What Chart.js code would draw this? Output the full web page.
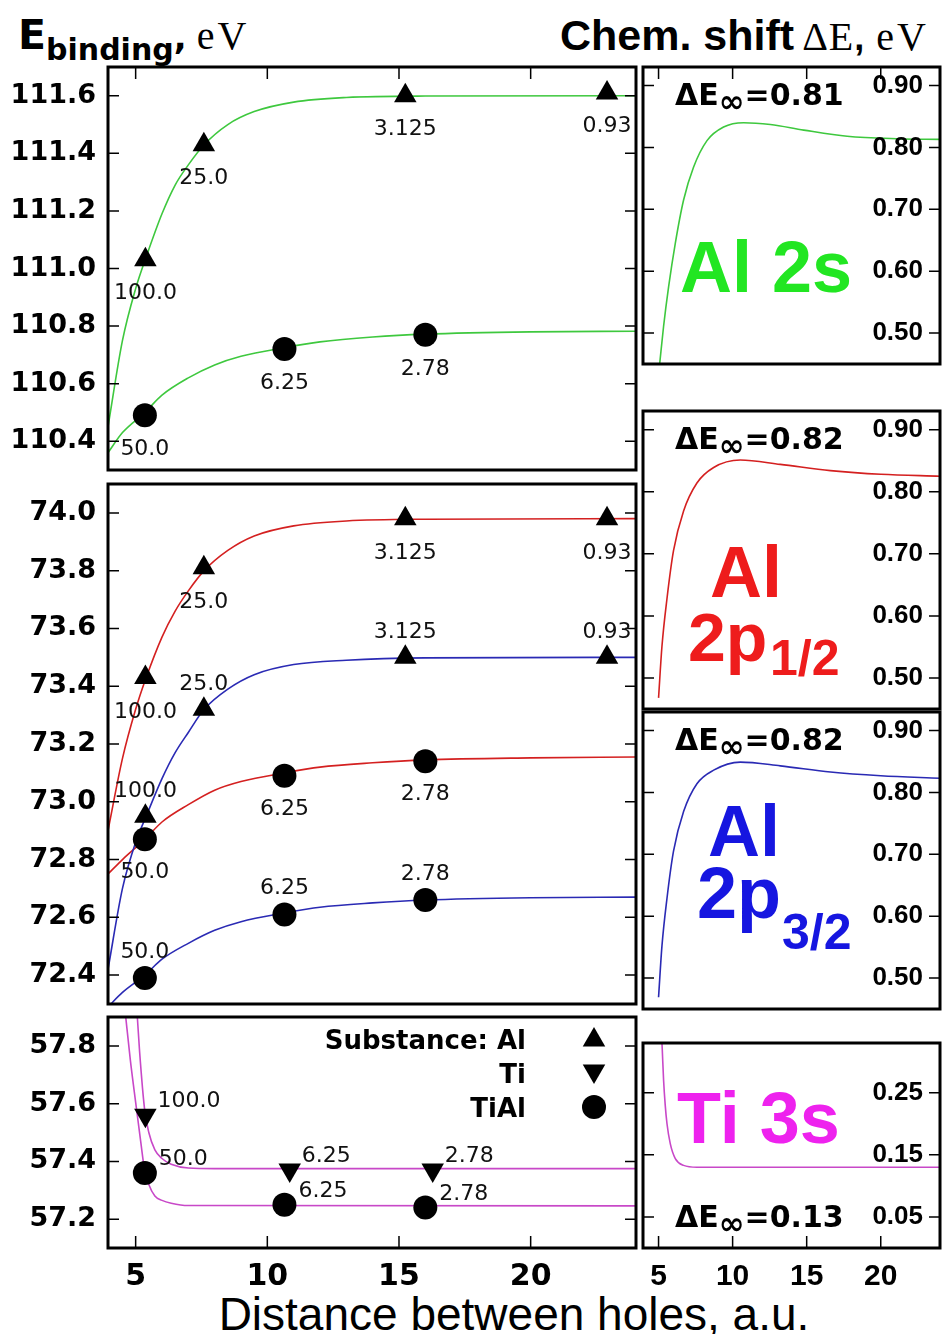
<!DOCTYPE html>
<html>
<head>
<meta charset="utf-8">
<title>Binding energies and chemical shifts</title>
<script src="https://cdn.jsdelivr.net/npm/chart.js@4.4.1/dist/chart.umd.min.js"></script>
<style>
  html, body { margin: 0; padding: 0; background: #fff; }
  #page { position: relative; width: 942px; height: 1334px; overflow: hidden; background: #fff; }
  #page canvas { position: absolute; }
  .txt { position: absolute; white-space: nowrap; line-height: 1; color: #000; }
  .unit { font-family: 'Liberation Serif'; font-weight: normal; line-height: 1; letter-spacing: 3px; }
</style>
</head>
<body>
<div id="page">
  <div class="txt" style="left:18px; top:15px; font: bold 41px 'DejaVu Sans'; line-height:1;">E<span style="font-size:30px; vertical-align:-11px;">binding</span><span style="font-size:34px;">,</span><span class="unit" style="font-size:40px; margin-left:10px;">eV</span></div>
  <div class="txt" style="left:560px; top:14px; font: bold 43px 'Liberation Sans'; line-height:1;">Chem. shift<span class="unit" style="font-size:40px; margin-left:8px; letter-spacing:1px;">ΔE</span><span style="font-size:36px;">,</span><span class="unit" style="font-size:40px; margin-left:12px;">eV</span></div>
  <div class="txt" style="left:514px; top:1291px; transform: translateX(-50%); font: 46px 'Liberation Sans'; line-height:1;">Distance between holes, a.u.</div>
</div>
<script>
/* ---- data ---- */
const distTicks = [5, 10, 15, 20];

// measured points: distance between holes (a.u.) and tags next to the markers
const alDist = [5.37, 7.59, 15.24, 22.9];
const tiDist = [5.37, 10.85, 16.28];
const tialDist = [5.35, 10.65, 16.0];
const alTags = ['100.0', '25.0', '3.125', '0.93'];
const tiTags = ['100.0', '6.25', '2.78'];
const tialTags = ['50.0', '6.25', '2.78'];

// binding energies, eV
const al2sAl = [111.03, 111.43, 111.60, 111.61];
const al2sTiAl = [110.49, 110.72, 110.77];
const p12Al = [73.43, 73.81, 73.98, 73.98];
const p12TiAl = [72.87, 73.09, 73.14];
const p32Al = [72.95, 73.32, 73.50, 73.50];
const p32TiAl = [72.39, 72.61, 72.66];
const ti3sTi = [57.56, 57.37, 57.37];
const ti3sTiAl = [57.36, 57.25, 57.24];

// fitted curves
const alFitDist = [3.95, 4.5, 5.0, 5.4, 6.0, 6.5, 7.0, 7.6, 8.5, 9.5, 11, 13, 16, 24];
const al2sAlFit = [110.45, 110.75, 110.93, 111.04, 111.19, 111.29, 111.36, 111.43, 111.50, 111.545, 111.578, 111.594, 111.599, 111.60];
const p12AlFit = [72.90, 73.15, 73.32, 73.43, 73.57, 73.66, 73.73, 73.80, 73.87, 73.92, 73.955, 73.972, 73.978, 73.98];
const p32AlFit = [72.42, 72.70, 72.86, 72.95, 73.08, 73.17, 73.24, 73.32, 73.39, 73.44, 73.475, 73.49, 73.498, 73.50];

const tialFitDist = [3.95, 4.5, 5.35, 6.0, 7.0, 8.0, 9.0, 10.65, 12, 14, 16, 20, 24];
const al2sTiAlFit = [110.36, 110.43, 110.50, 110.56, 110.62, 110.665, 110.695, 110.725, 110.745, 110.762, 110.772, 110.78, 110.782];
const p12TiAlFit = [72.75, 72.80, 72.87, 72.93, 72.99, 73.04, 73.07, 73.10, 73.12, 73.135, 73.145, 73.152, 73.155];
const p32TiAlFit = [72.29, 72.34, 72.40, 72.455, 72.51, 72.555, 72.585, 72.615, 72.635, 72.65, 72.66, 72.668, 72.67];

const ti3sTiFitDist = [5.05, 5.15, 5.34, 5.5, 5.73, 6.0, 6.35, 7.0, 8.0, 24];
const ti3sTiFit = [57.92, 57.78, 57.58, 57.50, 57.44, 57.41, 57.39, 57.377, 57.375, 57.375];
const ti3sTiAlFitDist = [4.6, 4.8, 4.95, 5.19, 5.34, 5.5, 5.73, 6.0, 6.35, 7.0, 24];
const ti3sTiAlFit = [57.92, 57.75, 57.64, 57.47, 57.37, 57.32, 57.28, 57.265, 57.255, 57.247, 57.246];

// chemical shift curves, eV
const al2sShiftDist = [5.07, 5.34, 5.68, 6.13, 6.69, 7.36, 8.27, 9.39, 10.74, 12.55, 14.8, 17.73, 21.1, 24];
const al2sShift = [0.449, 0.511, 0.575, 0.645, 0.715, 0.768, 0.811, 0.833, 0.840, 0.837, 0.828, 0.818, 0.814, 0.813];
const pShiftDist = [5.0, 5.23, 5.57, 6.01, 6.69, 7.59, 8.72, 10.52, 13.22, 16.6, 20, 24];
const p12Shift = [0.468, 0.551, 0.628, 0.705, 0.769, 0.814, 0.839, 0.851, 0.844, 0.834, 0.828, 0.825];
const p32Shift = [0.469, 0.552, 0.629, 0.705, 0.769, 0.814, 0.836, 0.849, 0.843, 0.833, 0.827, 0.823];
const ti3sShiftDist = [5.15, 5.25, 5.34, 5.45, 5.57, 5.79, 6.13, 6.69, 7.6, 24];
const ti3sShift = [0.37, 0.32, 0.27, 0.23, 0.20, 0.168, 0.144, 0.133, 0.13, 0.13];

const shiftInf = ['0.81', '0.82', '0.82', '0.13'];

// tick values
const al2sTicks = [110.4, 110.6, 110.8, 111.0, 111.2, 111.4, 111.6];
const al2pTicks = [72.4, 72.6, 72.8, 73.0, 73.2, 73.4, 73.6, 73.8, 74.0];
const ti3sTicks = [57.2, 57.4, 57.6, 57.8];
const shiftTicks = [0.50, 0.60, 0.70, 0.80, 0.90];
const ti3sShiftTicks = [0.05, 0.15, 0.25];

/* ---- styling ---- */
const GREEN = '#3ec83e', RED = '#d42020', BLUE = '#2a2ab4', MAGENTA = '#c848c8';
const TICK = 11;
const LEFT_FONT = "'DejaVu Sans'";
const RIGHT_FONT = "'Liberation Sans'";

function pts(xs, ys) { return xs.map((x, i) => ({ x: x, y: ys[i] })); }

function curve(xs, ys, color) {
  return {
    type: 'line', data: pts(xs, ys), borderColor: color, borderWidth: 1.6,
    pointRadius: 0, pointHoverRadius: 0, cubicInterpolationMode: 'monotone', fill: false
  };
}

function marks(xs, ys, style, r, rot) {
  return {
    type: 'scatter', data: pts(xs, ys), pointStyle: style, pointRadius: r,
    pointHoverRadius: r, rotation: rot || 0, pointRotation: rot || 0,
    backgroundColor: '#000', borderColor: '#000', borderWidth: 0
  };
}

function addCanvas(left, top, w, h) {
  const cv = document.createElement('canvas');
  cv.width = w; cv.height = h;
  cv.style.left = left + 'px'; cv.style.top = top + 'px';
  cv.style.width = w + 'px'; cv.style.height = h + 'px';
  document.getElementById('page').appendChild(cv);
  return cv;
}

function drawMarker(ctx, style, x, y, r, rot) {
  if (Chart.helpers && Chart.helpers.drawPoint) {
    Chart.helpers.drawPoint(ctx, { pointStyle: style, radius: r, rotation: rot || 0, borderWidth: 0 }, x, y);
    return;
  }
  ctx.beginPath();
  ctx.arc(x, y, r, 0, Math.PI * 2);
  ctx.fill();
}

// frame, inward ticks, labels and annotations
function decor(p, ox, oy) {
  return {
    id: 'decor',
    afterDatasetsDraw(chart) {
      const ctx = chart.ctx, a = chart.chartArea;
      const sx = chart.scales.x, sy = chart.scales.y;
      ctx.save();
      ctx.strokeStyle = '#000';
      ctx.lineWidth = 1.5;
      ctx.beginPath();
      p.yTicks.forEach(v => {
        const py = sy.getPixelForValue(v);
        ctx.moveTo(a.left, py); ctx.lineTo(a.left + TICK, py);
        ctx.moveTo(a.right - TICK, py); ctx.lineTo(a.right, py);
      });
      if (p.xTickSide) {
        distTicks.forEach(v => {
          const px = sx.getPixelForValue(v);
          const y0 = p.xTickSide === 'top' ? a.top : a.bottom;
          const dir = p.xTickSide === 'top' ? 1 : -1;
          ctx.moveTo(px, y0); ctx.lineTo(px, y0 + dir * (TICK + 1));
        });
      }
      ctx.stroke();
      ctx.lineWidth = 3;
      ctx.strokeRect(a.left, a.top, a.right - a.left, a.bottom - a.top);

      ctx.fillStyle = '#000';
      if (p.col === 'R') {
        ctx.font = 'bold 26px ' + RIGHT_FONT;
        ctx.textAlign = 'right';
        ctx.textBaseline = 'middle';
        p.yTicks.forEach(v => ctx.fillText(v.toFixed(2), a.right - 17, sy.getPixelForValue(v)));
      }

      ctx.textBaseline = 'alphabetic';
      (p.tags || []).forEach(g => {
        ctx.font = '22px ' + LEFT_FONT;
        ctx.fillStyle = '#111';
        ctx.textAlign = g.align;
        g.xs.forEach((xv, i) => {
          ctx.fillText(g.text[i], sx.getPixelForValue(xv) + g.dx, sy.getPixelForValue(g.ys[i]) + g.dy);
        });
      });

      (p.texts || []).forEach(t => {
        ctx.font = t.font;
        ctx.fillStyle = t.color || '#000';
        ctx.textAlign = t.align || 'left';
        ctx.fillText(t.s, t.x - ox, t.y - oy);
      });

      if (p.delta) {
        const d = p.delta;
        let x = d.x - ox;
        const y = d.y - oy;
        ctx.fillStyle = '#000';
        ctx.textAlign = 'left';
        ctx.font = 'bold 30px ' + LEFT_FONT;
        ctx.fillText('ΔE', x, y);
        x += ctx.measureText('ΔE').width;
        ctx.font = 'bold 31px ' + LEFT_FONT;
        ctx.fillText('∞', x, y + 7);
        x += ctx.measureText('∞').width;
        ctx.font = 'bold 30px ' + LEFT_FONT;
        ctx.fillText('=' + d.v, x, y);
      }

      if (p.legend) {
        ctx.fillStyle = '#000';
        p.legend.forEach(l => {
          ctx.font = 'bold 26px ' + LEFT_FONT;
          ctx.textAlign = 'right';
          ctx.fillText(l.s, l.tx - ox, l.ty - oy);
          drawMarker(ctx, l.style, l.mx - ox, l.my - oy, l.r, l.rot);
        });
      }
      ctx.restore();
    }
  };
}

function buildPanel(p) {
  const L = p.col === 'L';
  const cLeft = L ? 0 : 633;
  const cWidth = L ? 642 : 309;
  const padTop = 34;
  const padBot = p.xLabels ? 0 : 34;
  const xH = 48;
  const cTop = p.top - padTop;
  const cHeight = p.bottom - cTop + (p.xLabels ? xH : padBot);
  const cv = addCanvas(cLeft, cTop, cWidth, cHeight);
  const fam = L ? LEFT_FONT : RIGHT_FONT;

  const xScale = {
    type: 'linear', min: 3.95, max: 24, display: !!p.xLabels,
    grid: { display: false, drawTicks: false }, border: { display: false },
    afterBuildTicks: s => { s.ticks = distTicks.map(v => ({ value: v })); },
    ticks: { autoSkip: false, maxRotation: 0, padding: 11, color: '#000', font: { family: fam, weight: 'bold', size: 30 } }
  };
  if (p.xLabels) xScale.afterFit = s => { s.height = xH; };

  const yScale = {
    type: 'linear', min: p.yMin, max: p.yMax, display: L,
    grid: { display: false, drawTicks: false }, border: { display: false },
    afterBuildTicks: s => { s.ticks = p.yTicks.map(v => ({ value: v })); },
    ticks: { autoSkip: false, padding: 12, color: '#000', font: { family: fam, weight: 'bold', size: 27 }, callback: v => Number(v).toFixed(1) }
  };
  if (L) yScale.afterFit = s => { s.width = 108; };

  new Chart(cv, {
    type: 'scatter',
    data: { datasets: p.datasets },
    options: {
      responsive: false, animation: false, devicePixelRatio: 1, events: [],
      layout: { autoPadding: false, padding: { left: L ? 0 : 10, right: L ? 6 : 2, top: padTop, bottom: padBot } },
      plugins: { legend: { display: false }, tooltip: { enabled: false } },
      scales: { x: xScale, y: yScale }
    },
    plugins: [decor(p, cLeft, cTop)]
  });
}

const bigFont = 'bold 72px ' + RIGHT_FONT;

const panels = [
  { col: 'L', top: 67, bottom: 470, yMin: 110.3, yMax: 111.7, yTicks: al2sTicks, xTickSide: 'top',
    datasets: [
      marks(alDist, al2sAl, 'triangle', 13), marks(tialDist, al2sTiAl, 'circle', 12),
      curve(alFitDist, al2sAlFit, GREEN), curve(tialFitDist, al2sTiAlFit, GREEN)
    ],
    tags: [
      { xs: alDist, ys: al2sAl, text: alTags, dx: 0, dy: 39, align: 'center' },
      { xs: tialDist, ys: al2sTiAl, text: tialTags, dx: 0, dy: 40, align: 'center' }
    ] },
  { col: 'L', top: 484, bottom: 1004, yMin: 72.3, yMax: 74.1, yTicks: al2pTicks,
    datasets: [
      marks(alDist, p12Al, 'triangle', 13), marks(alDist, p32Al, 'triangle', 13),
      marks(tialDist, p12TiAl, 'circle', 12), marks(tialDist, p32TiAl, 'circle', 12),
      curve(alFitDist, p12AlFit, RED), curve(alFitDist, p32AlFit, BLUE),
      curve(tialFitDist, p12TiAlFit, RED), curve(tialFitDist, p32TiAlFit, BLUE)
    ],
    tags: [
      { xs: alDist, ys: p12Al, text: alTags, dx: 0, dy: 40, align: 'center' },
      { xs: alDist, ys: p32Al, text: alTags, dx: 0, dy: -19, align: 'center' },
      { xs: tialDist, ys: p12TiAl, text: tialTags, dx: 0, dy: 39, align: 'center' },
      { xs: tialDist, ys: p32TiAl, text: tialTags, dx: 0, dy: -20, align: 'center' }
    ] },
  { col: 'L', top: 1017, bottom: 1248, yMin: 57.1, yMax: 57.9, yTicks: ti3sTicks, xTickSide: 'bottom', xLabels: true,
    datasets: [
      marks(tiDist, ti3sTi, 'triangle', 13, 180), marks(tialDist, ti3sTiAl, 'circle', 12),
      curve(ti3sTiFitDist, ti3sTiFit, MAGENTA), curve(ti3sTiAlFitDist, ti3sTiAlFit, MAGENTA)
    ],
    tags: [
      { xs: tiDist, ys: ti3sTi, text: tiTags, dx: 12, dy: -8, align: 'left' },
      { xs: tialDist, ys: ti3sTiAl, text: tialTags, dx: 14, dy: -8, align: 'left' }
    ],
    legend: [
      { s: 'Substance: Al', tx: 526, ty: 1049, style: 'triangle', mx: 594, my: 1040, r: 13, rot: 0 },
      { s: 'Ti', tx: 526, ty: 1083, style: 'triangle', mx: 594, my: 1071, r: 13, rot: 180 },
      { s: 'TiAl', tx: 526, ty: 1117, style: 'circle', mx: 594, my: 1107, r: 12, rot: 0 }
    ] },
  { col: 'R', top: 67, bottom: 364, yMin: 0.45, yMax: 0.93, yTicks: shiftTicks, xTickSide: 'top',
    datasets: [curve(al2sShiftDist, al2sShift, GREEN)],
    delta: { x: 675, y: 105, v: shiftInf[0] },
    texts: [{ s: 'Al 2s', x: 680, y: 292, font: bigFont, color: '#22e622' }] },
  { col: 'R', top: 411, bottom: 709, yMin: 0.45, yMax: 0.93, yTicks: shiftTicks,
    datasets: [curve(pShiftDist, p12Shift, RED)],
    delta: { x: 675, y: 449, v: shiftInf[1] },
    texts: [
      { s: 'Al', x: 710, y: 597, font: bigFont, color: '#ee1c1c' },
      { s: '2p', x: 688, y: 661, font: 'bold 68px ' + RIGHT_FONT, color: '#ee1c1c' },
      { s: '1/2', x: 770, y: 675, font: 'bold 50px ' + RIGHT_FONT, color: '#ee1c1c' }
    ] },
  { col: 'R', top: 712, bottom: 1009, yMin: 0.45, yMax: 0.93, yTicks: shiftTicks,
    datasets: [curve(pShiftDist, p32Shift, BLUE)],
    delta: { x: 675, y: 750, v: shiftInf[2] },
    texts: [
      { s: 'Al', x: 708, y: 856, font: bigFont, color: '#1616e0' },
      { s: '2p', x: 697, y: 918, font: bigFont, color: '#1616e0' },
      { s: '3/2', x: 782, y: 949, font: 'bold 50px ' + RIGHT_FONT, color: '#1616e0' }
    ] },
  { col: 'R', top: 1043, bottom: 1248, yMin: 0, yMax: 0.33, yTicks: ti3sShiftTicks, xTickSide: 'bottom', xLabels: true,
    datasets: [curve(ti3sShiftDist, ti3sShift, MAGENTA)],
    delta: { x: 675, y: 1227, v: shiftInf[3] },
    texts: [{ s: 'Ti 3s', x: 677, y: 1143, font: bigFont, color: '#ee22ee' }] }
];

panels.forEach(buildPanel);
</script>
</body>
</html>
